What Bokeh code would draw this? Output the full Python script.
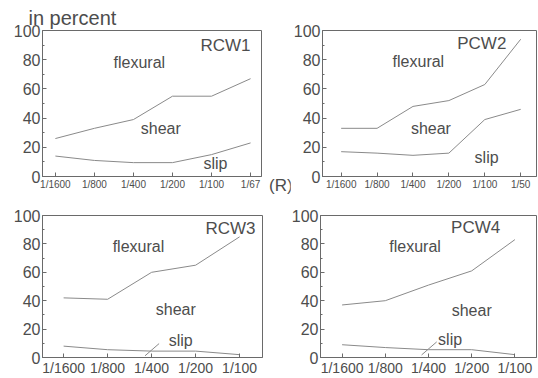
from bokeh.plotting import figure
from bokeh.layouts import column, row
from bokeh.models import FixedTicker, Label, Range1d, Div, Title
from bokeh.embed import file_html
from bokeh.resources import INLINE

# ---- data ----
ticks_rcw1 = ["1/1600", "1/800", "1/400", "1/200", "1/100", "1/67"]
ticks_pcw2 = ["1/1600", "1/800", "1/400", "1/200", "1/100", "1/50"]
ticks_rcw3 = ["1/1600", "1/800", "1/400", "1/200", "1/100"]
ticks_pcw4 = ["1/1600", "1/800", "1/400", "1/200", "1/100"]

# boundary between flexural and shear contributions (percent)
rcw1_flex_shear = [26, 33, 39, 55, 55, 67]
pcw2_flex_shear = [33, 33, 48, 52, 63, 94]
rcw3_flex_shear = [42, 41, 60, 65, 85]
pcw4_flex_shear = [37, 40, 51, 61, 83]
# boundary between shear and slip contributions (percent)
rcw1_shear_slip = [14, 11, 9.5, 9.5, 15, 23]
pcw2_shear_slip = [17, 16, 14.5, 16, 39, 46]
rcw3_shear_slip = [8, 5.5, 4.5, 4.5, 2]
pcw4_shear_slip = [9, 7, 5.5, 5.5, 2]

names = ["RCW1", "PCW2", "RCW3", "PCW4"]

TXT = "#4d4d4d"
LINE = "#8a8a8a"
AX = "#6a6a6a"
FONT = "Liberation Sans"


def style_axis(ax):
    ax.axis_line_color = AX
    ax.major_tick_in = 4
    ax.major_tick_out = 0
    ax.minor_tick_in = 2
    ax.minor_tick_out = 0
    ax.major_tick_line_color = AX
    ax.minor_tick_line_color = AX
    ax.major_label_text_color = TXT
    ax.major_label_text_font = FONT
    ax.major_label_standoff = 2


def panel(name, ticks, upper, lower, width, height, xr, borders, xfont,
          name_pos, flex_pos, shear_pos, slip_pos, leader=None):
    bl, br, bt, bb = borders
    p = figure(width=width, height=height, output_backend="svg",
               toolbar_location=None, x_range=Range1d(*xr),
               y_range=Range1d(0, 100),
               min_border_left=bl, min_border_right=br,
               min_border_top=bt, min_border_bottom=bb)
    p.background_fill_color = "white"
    p.border_fill_color = "white"
    p.outline_line_color = AX
    p.grid.visible = False
    xs = list(range(len(ticks)))
    p.xaxis.ticker = FixedTicker(ticks=xs)
    p.xaxis.major_label_overrides = {i: t for i, t in enumerate(ticks)}
    p.yaxis.ticker = FixedTicker(ticks=[0, 20, 40, 60, 80, 100],
                                 minor_ticks=list(range(10, 100, 20)))
    style_axis(p.xaxis[0])
    style_axis(p.yaxis[0])
    p.xaxis.minor_tick_line_color = None
    p.xaxis.major_label_text_font_size = xfont
    p.yaxis.major_label_text_font_size = "16px"

    p.line(xs, upper, line_color=LINE, line_width=1)
    p.line(xs, lower, line_color=LINE, line_width=1)

    def lab(txt, pos, align="center", size="16px"):
        p.add_layout(Label(x=pos[0], y=pos[1], text=txt, text_align=align,
                           text_baseline="middle", text_font=FONT,
                           text_font_size=size, text_color=TXT))
    lab(name, name_pos, align="right", size="17px")
    lab("flexural", flex_pos)
    lab("shear", shear_pos)
    lab("slip", slip_pos)
    if leader is not None:
        p.line(leader[0], leader[1], line_color=LINE, line_width=1)
    return p


p1 = panel(names[0], ticks_rcw1, rcw1_flex_shear, rcw1_shear_slip,
           268, 198, (-0.33, 5.28), (42, 7, 28, 22), "10px",
           (5.0, 90), (2.15, 78), (2.7, 33), (4.1, 9))
p1.add_layout(Title(text="in percent", align="left", offset=-14, standoff=3,
                    text_font=FONT, text_font_size="20px",
                    text_font_style="normal", text_color=TXT), "above")

unit_div = Div(text="<div style='position:relative; top:174px; left:1px; "
                    "white-space:nowrap'>(R)</div>",
               width=22, height=198, margin=(0, 0, 0, 0),
               styles={"font-family": FONT, "font-size": "17px",
                       "color": TXT, "overflow": "visible"})

p2 = panel(names[1], ticks_pcw2, pcw2_flex_shear, pcw2_shear_slip,
           248, 198, (-0.52, 5.44), (29, 2, 30, 21), "10px",
           (4.6, 91), (2.15, 79), (2.5, 33), (4.05, 13))

p3 = panel(names[2], ticks_rcw3, rcw3_flex_shear, rcw3_shear_slip,
           288, 180, (-0.48, 4.52), (42, 26, 16, 21), "14px",
           (4.36, 91), (1.7, 78), (2.55, 33.5), (2.66, 11.7),
           leader=([1.85, 2.17], [1.2, 9.8]))

p4 = panel(names[3], ticks_pcw4, pcw4_flex_shear, pcw4_shear_slip,
           250, 180, (-0.5, 4.5), (31, 2, 17, 18), "14px",
           (3.66, 91.5), (1.69, 78), (3.0, 33), (2.5, 12.6),
           leader=([1.84, 2.19], [1.8, 11]))

layout = column(row(p1, unit_div, p2), row(p3, p4))
open("out.html", "w").write(file_html(layout, INLINE))
